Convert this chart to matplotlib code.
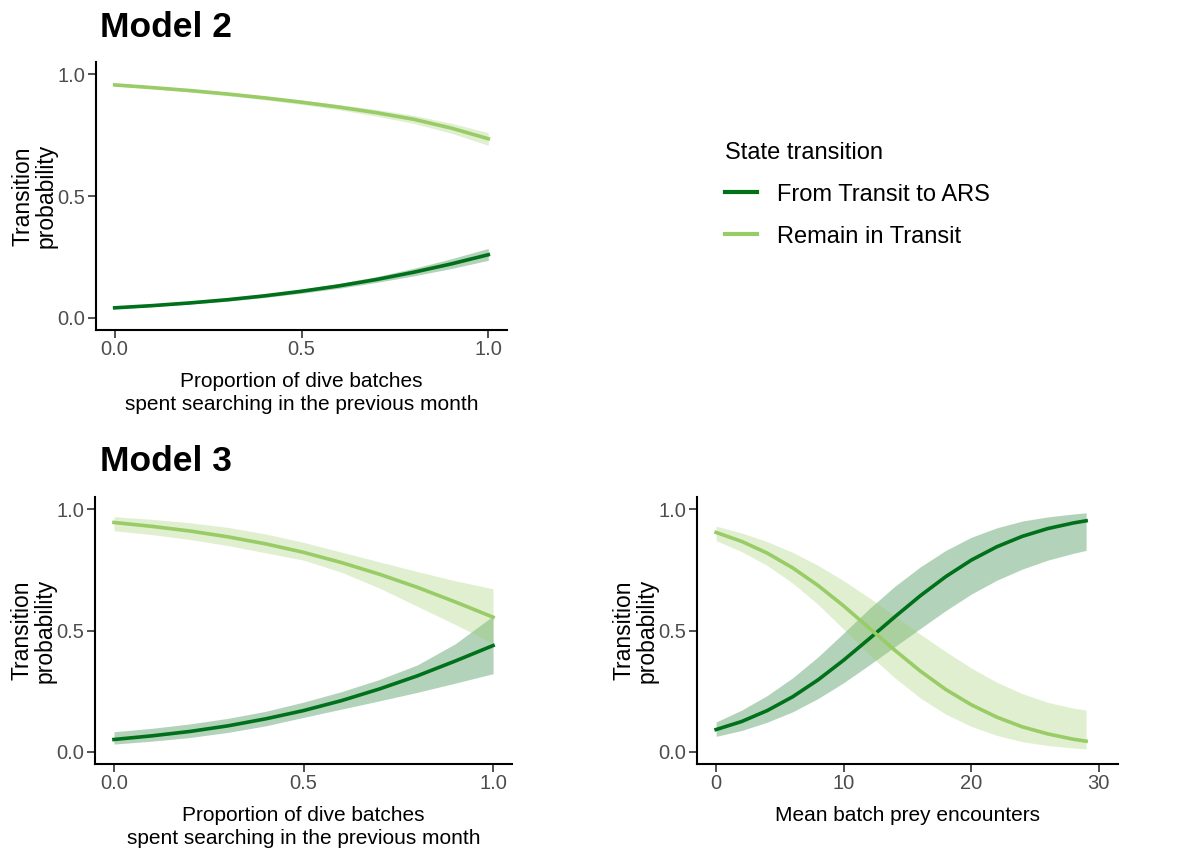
import numpy as np
import matplotlib
matplotlib.use("Agg")
import matplotlib.pyplot as plt

plt.rcParams['font.family'] = ['Liberation Sans', 'DejaVu Sans']

# ---- data ----
# Model 2: proportion of dive batches spent searching
m2_x = [0.0, 0.1, 0.2, 0.3, 0.4, 0.5, 0.6, 0.7, 0.8, 0.9, 1.0]
m2_ars = [0.041, 0.050, 0.061, 0.074, 0.090, 0.109, 0.131, 0.157, 0.187, 0.221, 0.259]
m2_ars_lo = [0.037, 0.046, 0.056, 0.068, 0.083, 0.101, 0.121, 0.145, 0.172, 0.202, 0.236]
m2_ars_hi = [0.046, 0.055, 0.066, 0.080, 0.097, 0.117, 0.141, 0.169, 0.203, 0.242, 0.285]
m2_rem = [0.956, 0.945, 0.933, 0.919, 0.903, 0.885, 0.865, 0.842, 0.815, 0.779, 0.735]
m2_rem_lo = [0.951, 0.940, 0.927, 0.912, 0.895, 0.876, 0.854, 0.828, 0.798, 0.758, 0.708]
m2_rem_hi = [0.961, 0.950, 0.939, 0.926, 0.911, 0.894, 0.875, 0.855, 0.831, 0.799, 0.760]

# Model 3: proportion of dive batches spent searching
m3a_x = [0.0, 0.1, 0.2, 0.3, 0.4, 0.5, 0.6, 0.7, 0.8, 0.9, 1.0]
m3a_ars = [0.051, 0.066, 0.084, 0.107, 0.136, 0.170, 0.211, 0.259, 0.313, 0.374, 0.438]
m3a_ars_lo = [0.032, 0.044, 0.059, 0.080, 0.107, 0.142, 0.176, 0.210, 0.245, 0.283, 0.322]
m3a_ars_hi = [0.083, 0.097, 0.115, 0.138, 0.167, 0.205, 0.248, 0.298, 0.358, 0.445, 0.560]
m3a_rem = [0.945, 0.929, 0.910, 0.886, 0.857, 0.822, 0.780, 0.732, 0.678, 0.618, 0.555]
m3a_rem_lo = [0.911, 0.895, 0.875, 0.850, 0.820, 0.790, 0.740, 0.675, 0.600, 0.525, 0.447]
m3a_rem_hi = [0.969, 0.958, 0.944, 0.925, 0.898, 0.863, 0.823, 0.783, 0.743, 0.705, 0.672]

# Model 3: mean batch prey encounters
m3b_x = [0, 2, 4, 6, 8, 10, 12, 14, 16, 18, 20, 22, 24, 26, 28, 29]
m3b_ars = [0.092, 0.125, 0.170, 0.227, 0.297, 0.378, 0.466, 0.556, 0.643, 0.722, 0.790, 0.845, 0.888, 0.920, 0.943, 0.952]
m3b_ars_lo = [0.064, 0.088, 0.122, 0.165, 0.220, 0.285, 0.358, 0.433, 0.508, 0.582, 0.650, 0.707, 0.753, 0.790, 0.818, 0.830]
m3b_ars_hi = [0.123, 0.172, 0.232, 0.305, 0.392, 0.490, 0.590, 0.682, 0.762, 0.830, 0.884, 0.923, 0.951, 0.968, 0.980, 0.985]
m3b_rem = [0.904, 0.867, 0.819, 0.758, 0.685, 0.601, 0.510, 0.419, 0.333, 0.257, 0.194, 0.143, 0.103, 0.074, 0.052, 0.044]
m3b_rem_lo = [0.870, 0.825, 0.768, 0.695, 0.607, 0.505, 0.400, 0.305, 0.222, 0.155, 0.105, 0.068, 0.042, 0.026, 0.016, 0.012]
m3b_rem_hi = [0.930, 0.902, 0.866, 0.822, 0.768, 0.705, 0.635, 0.560, 0.485, 0.413, 0.345, 0.287, 0.240, 0.204, 0.180, 0.172]

labels = ['From Transit to ARS', 'Remain in Transit']
dark = '#00701A'
light = '#99CC66'

xlab_prop = 'Proportion of dive batches\nspent searching in the previous month'
xlab_prey = 'Mean batch prey encounters'
ylab = 'Transition\nprobability'


def panel(ax, x, ars, ars_lo, ars_hi, rem, rem_lo, rem_hi, xlabel, xticks, xlim):
    ax.fill_between(x, ars_lo, ars_hi, color=dark, alpha=0.3, lw=0)
    ax.fill_between(x, rem_lo, rem_hi, color=light, alpha=0.3, lw=0)
    l1, = ax.plot(x, ars, color=dark, lw=2.6, label=labels[0])
    l2, = ax.plot(x, rem, color=light, lw=2.6, label=labels[1])
    ax.set_xlim(xlim)
    ax.set_ylim(-0.05, 1.05)
    ax.set_xticks(xticks)
    ax.set_yticks([0.0, 0.5, 1.0])
    ax.set_yticklabels(['0.0', '0.5', '1.0'])
    for s in ['top', 'right']:
        ax.spines[s].set_visible(False)
    for s in ['left', 'bottom']:
        ax.spines[s].set_linewidth(1.5)
    ax.tick_params(length=5.5, width=1.2, color='#333333', labelcolor='#4D4D4D', labelsize=14.5, pad=2)
    ax.set_xlabel(xlabel, fontsize=15, labelpad=9, linespacing=1.25)
    ax.set_ylabel(ylab, fontsize=16.5, labelpad=0, linespacing=1.0)
    return l1, l2


fig = plt.figure(figsize=(11.96, 8.56), dpi=100)
W, H = 1196, 856

def box(l, r, t, b):
    return [l / W, 1 - b / H, (r - l) / W, (b - t) / H]

ax1 = fig.add_axes(box(96, 507, 62, 330))
ax2 = fig.add_axes(box(95, 512, 497, 764))
ax3 = fig.add_axes(box(697, 1118, 497, 764))

h = panel(ax1, m2_x, m2_ars, m2_ars_lo, m2_ars_hi, m2_rem, m2_rem_lo, m2_rem_hi,
          xlab_prop, [0.0, 0.5, 1.0], (-0.05, 1.05))
ax1.set_xticklabels(['0.0', '0.5', '1.0'])
panel(ax2, m3a_x, m3a_ars, m3a_ars_lo, m3a_ars_hi, m3a_rem, m3a_rem_lo, m3a_rem_hi,
      xlab_prop, [0.0, 0.5, 1.0], (-0.05, 1.05))
ax2.set_xticklabels(['0.0', '0.5', '1.0'])
panel(ax3, m3b_x, m3b_ars, m3b_ars_lo, m3b_ars_hi, m3b_rem, m3b_rem_lo, m3b_rem_hi,
      xlab_prey, [0, 10, 20, 30], (-1.5, 31.5))

fig.text(100 / W, 1 - 37 / H, 'Model 2', fontsize=25.5, fontweight='bold', va='baseline', ha='left')
fig.text(100 / W, 1 - 471 / H, 'Model 3', fontsize=25.5, fontweight='bold', va='baseline', ha='left')

leg = fig.legend(handles=list(h), labels=labels, title='State transition',
                 loc='upper left', bbox_to_anchor=(721 / W, 1 - 138 / H),
                 frameon=False, fontsize=17, title_fontsize=17,
                 handlelength=1.36, handletextpad=0.85, labelspacing=0.85,
                 borderpad=0.15, borderaxespad=0, alignment='left')
for ln in leg.get_lines():
    ln.set_linewidth(3)

fig.savefig('out.png', dpi=100)
